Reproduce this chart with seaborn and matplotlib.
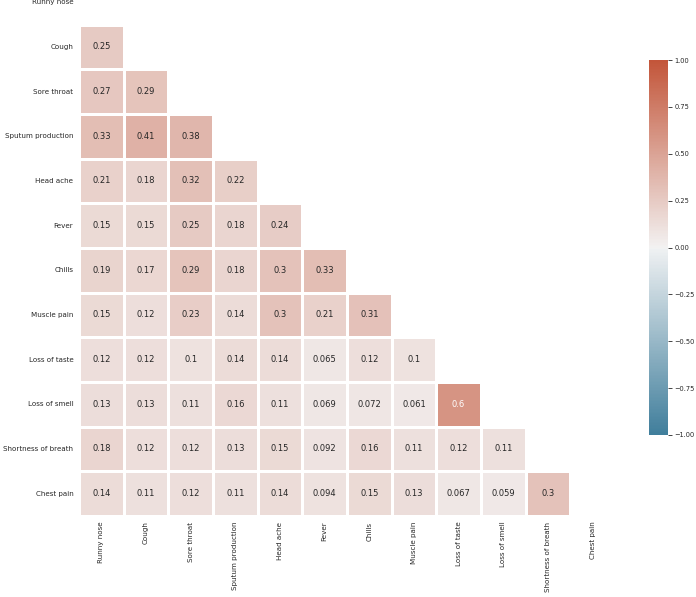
import numpy as np
import pandas as pd
import matplotlib
matplotlib.use("Agg")
import matplotlib.pyplot as plt
import seaborn as sns

sns.set_theme(style="white")

# symptom names (row/column order)
symptoms = ["Runny nose", "Cough", "Sore throat", "Sputum production", "Head ache",
            "Fever", "Chills", "Muscle pain", "Loss of taste", "Loss of smell",
            "Shortness of breath", "Chest pain"]

# lower triangle of the correlation matrix, one list per row (below diagonal)
r_cough = [0.25]
r_sore_throat = [0.27, 0.29]
r_sputum = [0.33, 0.41, 0.38]
r_head_ache = [0.21, 0.18, 0.32, 0.22]
r_fever = [0.15, 0.15, 0.25, 0.18, 0.24]
r_chills = [0.19, 0.17, 0.29, 0.18, 0.3, 0.33]
r_muscle = [0.15, 0.12, 0.23, 0.14, 0.3, 0.21, 0.31]
r_taste = [0.12, 0.12, 0.1, 0.14, 0.14, 0.065, 0.12, 0.1]
r_smell = [0.13, 0.13, 0.11, 0.16, 0.11, 0.069, 0.072, 0.061, 0.6]
r_breath = [0.18, 0.12, 0.12, 0.13, 0.15, 0.092, 0.16, 0.11, 0.12, 0.11]
r_chest = [0.14, 0.11, 0.12, 0.11, 0.14, 0.094, 0.15, 0.13, 0.067, 0.059, 0.3]

lower_rows = [[], r_cough, r_sore_throat, r_sputum, r_head_ache, r_fever, r_chills,
              r_muscle, r_taste, r_smell, r_breath, r_chest]

# build the full symmetric matrix
n = len(symptoms)
mat = np.eye(n)
for i, row in enumerate(lower_rows):
    for j, v in enumerate(row):
        mat[i, j] = v
        mat[j, i] = v
corr = pd.DataFrame(mat, index=symptoms, columns=symptoms)

mask = np.triu(np.ones_like(mat, dtype=bool))
cmap = sns.diverging_palette(230, 20, as_cmap=True)

fig = plt.figure(figsize=(6.96, 5.97), dpi=100)
ax = fig.add_axes([0.1135, 0.1357, 0.770, 0.8978])
cax = fig.add_axes([0.9325, 0.2714, 0.0273, 0.628])

sns.heatmap(corr, mask=mask, cmap=cmap, vmin=-1, vmax=1, center=0,
            annot=True, annot_kws={"fontsize": 6}, linewidths=1, linecolor="white",
            ax=ax, cbar_ax=cax)

ax.tick_params(axis="both", labelsize=5.1, colors=".15", length=0, pad=4)
plt.setp(ax.get_xticklabels(), rotation=90)
plt.setp(ax.get_yticklabels(), rotation=0)
ax.set_xlabel("")
ax.set_ylabel("")

cax.tick_params(labelsize=4.8, colors=".15", length=3, width=0.6, pad=1.5, right=True)

fig.savefig("out.png", dpi=100)
